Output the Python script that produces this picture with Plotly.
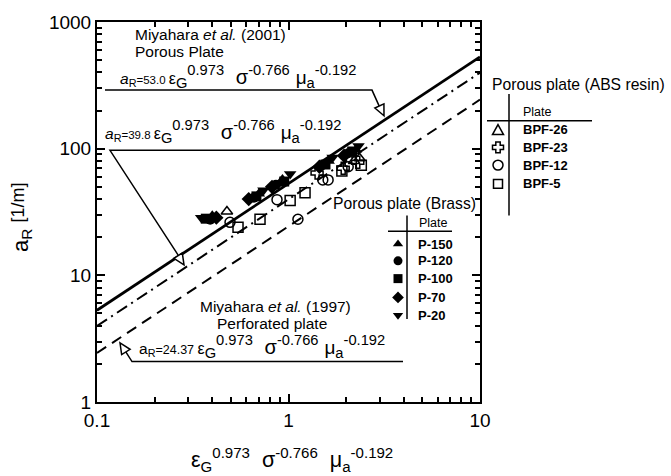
import plotly.graph_objects as go
import numpy as np

# ---------------- data ----------------
# Porous plate (Brass) - filled symbols
p150_x = [0.40, 0.70, 0.93, 1.62, 2.25]
p150_y = [29.5, 44.0, 57.0, 80.0, 98.0]
p120_x = [0.39, 0.66, 0.86, 1.50, 2.05]
p120_y = [27.5, 41.0, 52.0, 74.0, 92.0]
p100_x = [0.37, 0.68, 0.95, 1.56, 2.15]
p100_y = [28.0, 42.0, 55.0, 75.0, 95.0]
p70_x = [0.42, 0.62, 0.82, 1.45, 1.95]
p70_y = [28.5, 40.0, 50.0, 72.0, 88.0]
p20_x = [0.35, 0.74, 1.02, 1.70, 2.32]
p20_y = [28.5, 47.0, 63.0, 85.0, 105.0]

# Porous plate (ABS resin) - open symbols
bpf26_x = [0.477, 2.20, 2.35]
bpf26_y = [31.9, 80.0, 84.0]
bpf23_x = [1.41, 1.93, 2.30]
bpf23_y = [64.3, 70.0, 78.0]
bpf12_x = [0.495, 0.871, 1.51, 1.61, 1.12, 2.05]
bpf12_y = [26.2, 39.6, 56.7, 56.7, 27.7, 72.0]
bpf5_x = [0.545, 0.71, 1.02, 1.22, 1.90, 2.40]
bpf5_y = [24.0, 27.7, 38.9, 44.9, 66.7, 74.0]

# correlation lines a_R = C * x
fit_x = np.array([0.1, 10.0])
coef_2001 = 53.0
coef_this = 39.8
coef_1997 = 24.37

x_ticks = [0.1, 1, 10]
x_ticklabels = ["0.1", "1", "10"]
y_ticks = [1, 10, 100, 1000]
y_ticklabels = ["1", "10", "100", "1000"]

brass_names = ["P-150", "P-120", "P-100", "P-70", "P-20"]
brass_symbols = ["triangle-up", "circle", "square", "diamond", "triangle-down"]
abs_names = ["BPF-26", "BPF-23", "BPF-12", "BPF-5"]
abs_symbols = ["triangle-up-open", "cross-open", "circle-open", "square-open"]

FONT = "Liberation Sans, Arial, Helvetica, sans-serif"
W, H = 671, 476
L, R, T, B = 97, 480, 17, 402


def px(x):
    return (x - L) / (R - L)


def py(y):
    return (B - y) / (B - T)


fig = go.Figure()

brass_data = [(p150_x, p150_y), (p120_x, p120_y), (p100_x, p100_y),
              (p70_x, p70_y), (p20_x, p20_y)]
brass_sizes = [11, 10, 10, 11, 11]
for (xs, ys), nm, sym, sz in zip(brass_data, brass_names, brass_symbols, brass_sizes):
    fig.add_trace(go.Scatter(x=xs, y=ys, mode="markers", name=nm,
                             marker=dict(symbol=sym, size=sz, color="black",
                                         line=dict(width=0))))

abs_data = [(bpf26_x, bpf26_y), (bpf23_x, bpf23_y), (bpf12_x, bpf12_y), (bpf5_x, bpf5_y)]
for (xs, ys), nm, sym in zip(abs_data, abs_names, abs_symbols):
    fig.add_trace(go.Scatter(x=xs, y=ys, mode="markers", name=nm,
                             marker=dict(symbol=sym, size=10, color="black",
                                         line=dict(width=1.5, color="black"))))

fig.add_trace(go.Scatter(x=fit_x, y=coef_2001 * fit_x, mode="lines",
                         line=dict(color="black", width=2.8)))
fig.add_trace(go.Scatter(x=fit_x, y=coef_this * fit_x, mode="lines",
                         line=dict(color="black", width=2, dash="12px,5px,2px,5px")))
fig.add_trace(go.Scatter(x=fit_x, y=coef_1997 * fit_x, mode="lines",
                         line=dict(color="black", width=2, dash="11px,7px")))

# brass legend symbol markers on a pixel-space overlay axis (inside the plot area)
leg_x = [398] * 5
leg_y = [242, 259, 277, 296, 314]
fig.add_trace(go.Scatter(x=leg_x, y=leg_y, mode="markers", xaxis="x2", yaxis="y2",
                         cliponaxis=False,
                         marker=dict(symbol=brass_symbols, size=9, color="black",
                                     line=dict(width=0))))

minor_x = [v * m for v in [0.1, 1] for m in range(2, 10)]
minor_y = [v * m for v in [1, 10, 100] for m in range(2, 10)]

axis_common = dict(showline=True, linewidth=2, linecolor="black", mirror="allticks",
                   ticks="inside", ticklen=8, tickwidth=2, tickcolor="black",
                   showgrid=False, zeroline=False,
                   tickfont=dict(family=FONT, size=19, color="black"))
fig.update_layout(
    width=W, height=H,
    margin=dict(l=L, r=W - R, t=T, b=H - B),
    paper_bgcolor="white", plot_bgcolor="white",
    showlegend=False,
    xaxis=dict(type="log", range=[-1, 1], tickvals=x_ticks, ticktext=x_ticklabels,
               minor=dict(tickvals=minor_x, ticks="inside", ticklen=5, tickwidth=1.5,
                          tickcolor="black", showgrid=False),
               **axis_common),
    yaxis=dict(type="log", range=[0, 3], tickvals=y_ticks, ticktext=y_ticklabels,
               minor=dict(tickvals=minor_y, ticks="inside", ticklen=5, tickwidth=1.5,
                          tickcolor="black", showgrid=False),
               **axis_common),
    xaxis2=dict(overlaying="x", range=[L, R], visible=False),
    yaxis2=dict(overlaying="y", range=[B, T], visible=False),
)

ann = []


def text(x, y, t, size=14, xanchor="left", yanchor="middle", angle=0):
    ann.append(dict(x=px(x), y=py(y), xref="paper", yref="paper", text=t,
                    showarrow=False, xanchor=xanchor, yanchor=yanchor,
                    align=xanchor if xanchor != "center" else "center",
                    textangle=angle,
                    font=dict(family=FONT, size=size, color="black")))


def eq(c, italic=True, csize=11.5):
    a = "<i>a</i>" if italic else "a"
    return (f"<span style='font-size:15.5px'>{a}<sub>R</sub></span>"
            f"<span style='font-size:{csize}px'>={c} </span>"
            f"<span style='font-size:16px'>ε</span><sub>G</sub><sup>0.973</sup>&nbsp; "
            f"<span style='font-size:20px'>σ</span><sup>-0.766</sup> "
            f"<span style='font-size:19px'>μ</span><sub>a</sub><sup>-0.192</sup>")


text(133, 30, "Miyahara <i>et al.</i> (2001)", 15.5)
text(133, 47, "Porous Plate", 15.5)
text(118, 72, eq("53.0"), 21)
text(103, 128, eq("39.8"), 21)
text(275, 305, "Miyahara <i>et al.</i> (1997)", 15.5, "center")
text(272, 322, "Perforated plate", 15.5, "center")
text(137, 346, eq("24.37", italic=False, csize=12.5), 21)

# ABS legend
text(490, 80, "Porous plate (ABS resin)", 15.7)
text(521, 108, "Plate", 12.5)
for yy, nm in zip([126, 144, 162, 181], abs_names):
    text(521, yy, f"<b>{nm}</b>", 13)
# Brass legend
text(478, 201, "Porous plate (Brass)", 15.7, "right")
text(417, 221, "Plate", 12.5)
for yy, nm in zip([242, 259, 277, 296, 314], brass_names):
    text(416, yy, f"<b>{nm}</b>", 13)

# axis titles
text(292, 460, "ε<sub>G</sub><sup>0.973</sup> &nbsp;σ<sup>-0.766</sup> &nbsp;μ<sub>a</sub><sup>-0.192</sup>",
     21.5, "center")
text(22, 239, "a<sub>R</sub>", 22, "center", angle=-90)
text(18, 200, "[1/m]", 18, "center", angle=-90)

shapes = []


def line_path(pts, width=1.5, fill=None):
    d = "M " + " L ".join(f"{px(a):.5f},{py(b):.5f}" for a, b in pts)
    if fill:
        d += " Z"
    s = dict(type="path", path=d, xref="paper", yref="paper",
             line=dict(color="black", width=width))
    if fill:
        s["fillcolor"] = fill
    shapes.append(s)


def arrow_head(tail, tip, length=11, half=5):
    dx, dy = tip[0] - tail[0], tip[1] - tail[1]
    n = (dx ** 2 + dy ** 2) ** 0.5
    ux, uy = dx / n, dy / n
    bx, by = tip[0] - ux * length, tip[1] - uy * length
    p1 = (bx - uy * half, by + ux * half)
    p2 = (bx + uy * half, by - ux * half)
    line_path([tip, p1, p2], width=1.5, fill="white")


# callouts
line_path([(105, 86), (372, 86), (380, 104)])
arrow_head((372, 86), (384, 112))
line_path([(320, 147), (110, 147), (178, 253)])
arrow_head((110, 147), (184, 263))
line_path([(403, 361), (132, 361), (125, 350)])
arrow_head((132, 361), (120, 342))

# legend table lines
line_path([(509, 90), (509, 213)], width=1.5)
line_path([(487, 117), (592, 117)], width=1.5)
line_path([(407, 213), (407, 318)], width=1.5)
line_path([(388, 229), (452, 229)], width=1.5)

# ABS legend symbols (outside the plot area) drawn as shapes
cx = 498
# open triangle
line_path([(cx, 121), (cx + 5.5, 131), (cx - 5.5, 131)], width=1.5, fill="white")
# open cross
cy, a, e = 144, 2.2, 5.5
line_path([(cx - a, cy - e), (cx + a, cy - e), (cx + a, cy - a), (cx + e, cy - a),
           (cx + e, cy + a), (cx + a, cy + a), (cx + a, cy + e), (cx - a, cy + e),
           (cx - a, cy + a), (cx - e, cy + a), (cx - e, cy - a), (cx - a, cy - a)],
          width=1.5, fill="white")
# open circle
shapes.append(dict(type="circle", xref="paper", yref="paper",
                   x0=px(cx - 5), x1=px(cx + 5), y0=py(157), y1=py(167),
                   line=dict(color="black", width=1.5)))
# open square
shapes.append(dict(type="rect", xref="paper", yref="paper",
                   x0=px(cx - 4.5), x1=px(cx + 4.5), y0=py(176.5), y1=py(185.5),
                   line=dict(color="black", width=1.5)))

fig.update_layout(annotations=ann, shapes=shapes)
fig.write_html("out.html")
